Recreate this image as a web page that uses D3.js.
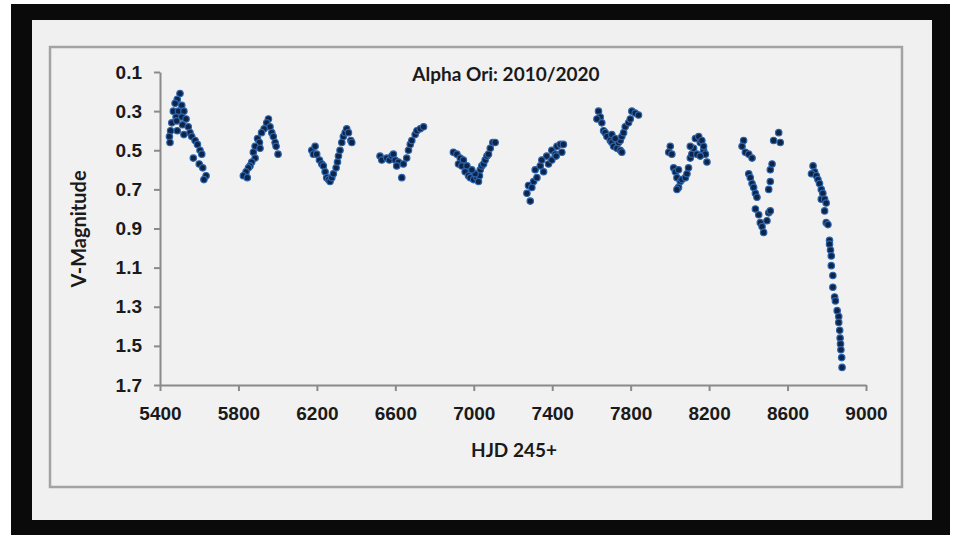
<!DOCTYPE html>
<html>
<head>
<meta charset="utf-8">
<title>Alpha Ori: 2010/2020</title>
<script src="https://cdn.jsdelivr.net/npm/d3@7"></script>
<style>
html, body { margin:0; padding:0; background:#ffffff; }
svg { display:block; font-family:Lato, "Open Sans", sans-serif; }
.axis path, .axis line { stroke:#8a8a8a; stroke-width:2; }
.axis text { font-size:19px; font-weight:bold; fill:#1a1a1a; }
.label { font-size:19px; font-weight:bold; fill:#1a1a1a; }
.dot { fill:#0e2449; stroke:#2c64ab; stroke-width:1.2; }
</style>
</head>
<body>
<svg id="myGraph" width="958" height="535"></svg>
<script>
var hjd = [
  5502,5488,5477,5511,5468,5494,5522,5482,5511,5533,5460,5485,5515,5544,5454,5488,5553,5448,5522,5562,5579,5451,5591,5604,5570,5613,5600,5618,5635,5624,
  5953,5944,5961,5931,5970,5918,5978,5897,5907,5987,5885,5910,5992,5876,5885,5868,5859,5851,5839,5825,5845,6002,
  6174,6191,6182,6199,6213,6225,6233,6242,6250,6259,6267,6276,6284,6298,6305,6310,6318,6327,6335,6344,6352,6361,6373,6378,
  6522,6531,6556,6570,6582,6590,6599,6616,6607,6633,6641,6658,6667,6676,6684,6701,6710,6727,6744,
  6896,6914,6931,6947,6922,6939,6965,6956,6973,6982,6999,7016,7029,7024,7033,7041,7050,7058,7067,7075,7084,7097,7109,7007,6990,
  7288,7271,7279,7296,7305,7322,7313,7339,7356,7347,7372,7381,7398,7415,7424,7441,7449,7457,7398,7420,
  7636,7645,7628,7653,7662,7670,7679,7696,7704,7713,7730,7747,7755,7738,7747,7755,7764,7772,7789,7798,7806,7823,7840,7704,7721,
  8002,7994,8010,8019,8028,8044,8036,8053,8044,8036,8061,8079,8087,8095,8104,8112,8121,8130,8147,8155,8163,8172,8181,8189,8138,8155,8172,8104,
  8376,8368,8385,8402,8419,8402,8410,8419,8427,8436,8444,8436,8453,8461,8470,8478,8495,8504,8512,8504,8512,8512,8521,8529,8555,8563,
  8730,8738,8722,8747,8755,8763,8772,8772,8780,8789,8797,8789,8797,8806,8814,8814,8819,8823,8823,8831,8831,8840,8844,8853,8861,8861,8866,8868,8870,8872,8876,8878
];
var vmag = [
  0.21,0.24,0.26,0.27,0.30,0.30,0.30,0.33,0.33,0.34,0.36,0.35,0.37,0.38,0.40,0.40,0.41,0.43,0.42,0.43,0.45,0.46,0.47,0.50,0.54,0.52,0.57,0.59,0.63,0.65,
  0.34,0.36,0.38,0.39,0.41,0.41,0.43,0.44,0.46,0.46,0.48,0.49,0.48,0.51,0.54,0.56,0.58,0.59,0.61,0.63,0.64,0.52,
  0.50,0.48,0.52,0.52,0.55,0.57,0.58,0.61,0.64,0.65,0.66,0.64,0.62,0.59,0.56,0.53,0.50,0.46,0.43,0.41,0.39,0.41,0.45,0.46,
  0.53,0.55,0.54,0.55,0.53,0.52,0.55,0.56,0.58,0.64,0.57,0.54,0.50,0.47,0.45,0.42,0.40,0.39,0.38,
  0.51,0.52,0.54,0.55,0.57,0.58,0.58,0.61,0.63,0.64,0.65,0.64,0.63,0.66,0.60,0.58,0.57,0.55,0.53,0.52,0.49,0.46,0.46,0.62,0.60,
  0.76,0.72,0.68,0.69,0.66,0.64,0.60,0.58,0.61,0.55,0.53,0.57,0.50,0.52,0.48,0.47,0.51,0.47,0.55,0.53,
  0.30,0.33,0.34,0.36,0.40,0.41,0.43,0.45,0.46,0.48,0.49,0.50,0.51,0.46,0.45,0.43,0.41,0.38,0.36,0.34,0.30,0.31,0.32,0.42,0.44,
  0.48,0.51,0.52,0.59,0.61,0.60,0.64,0.66,0.69,0.70,0.65,0.64,0.62,0.59,0.54,0.52,0.49,0.44,0.43,0.46,0.45,0.50,0.52,0.56,0.52,0.53,0.48,0.48,
  0.45,0.48,0.51,0.52,0.54,0.62,0.64,0.67,0.69,0.72,0.74,0.80,0.83,0.87,0.89,0.92,0.86,0.82,0.81,0.70,0.66,0.60,0.57,0.45,0.41,0.46,
  0.58,0.61,0.62,0.63,0.65,0.67,0.70,0.75,0.72,0.75,0.77,0.81,0.87,0.88,0.96,0.98,1.01,1.04,1.09,1.14,1.20,1.25,1.27,1.32,1.35,1.38,1.42,1.46,1.49,1.52,1.56,1.61
];
var xTicks = [5400,5800,6200,6600,7000,7400,7800,8200,8600,9000];
var yTicks = [0.1,0.3,0.5,0.7,0.9,1.1,1.3,1.5,1.7];
var titleText = "Alpha Ori: 2010/2020";
var xTitle = "HJD 245+";
var yTitle = "V-Magnitude";

window.addEventListener("load",function(){
var svg = d3.select("#myGraph");
var left = 160, right = 866, top = 72, bottom = 385;

// photo frame: black edge, light card, inner chart border
svg.append("rect").attr("x",11).attr("y",4).attr("width",939).attr("height",531).attr("fill","#0a0a0a");
svg.append("rect").attr("x",32).attr("y",20).attr("width",900).attr("height",500).attr("fill","#f0f0f0");
svg.append("rect").attr("x",50).attr("y",47).attr("width",852).attr("height",440)
  .attr("fill","#f1f1f1").attr("stroke","#a3a3a3").attr("stroke-width",2.5);

var xScale = d3.scaleLinear().domain([5400,9000]).range([left,right]);
var yScale = d3.scaleLinear().domain([0.1,1.7]).range([top,bottom]);	// magnitude grows downward

svg.append("g")
  .attr("class","axis")
  .attr("transform","translate(0,"+bottom+")")
  .call(d3.axisBottom(xScale).tickValues(xTicks).tickSize(6).tickSizeOuter(0).tickPadding(16).tickFormat(d3.format("d")));

svg.append("g")
  .attr("class","axis")
  .attr("transform","translate("+left+",0)")
  .call(d3.axisLeft(yScale).tickValues(yTicks).tickSize(6).tickSizeOuter(0).tickPadding(12).tickFormat(d3.format(".1f")));

// points
svg.append("g").selectAll("circle")
  .data(hjd)
  .enter()
  .append("circle")
  .attr("class","dot")
  .attr("cx",function(d){ return xScale(d); })
  .attr("cy",function(d,i){ return yScale(vmag[i]); })
  .attr("r",3.2);

svg.append("text").attr("class","label").attr("x",506).attr("y",81)
  .attr("text-anchor","middle").text(titleText);
svg.append("text").attr("class","label").attr("x",514).attr("y",457)
  .attr("text-anchor","middle").text(xTitle);
svg.append("text").attr("class","label")
  .attr("transform","translate(86,229) rotate(-90)")
  .attr("text-anchor","middle").style("font-size","20px").text(yTitle);

});
</script>
</body>
</html>
